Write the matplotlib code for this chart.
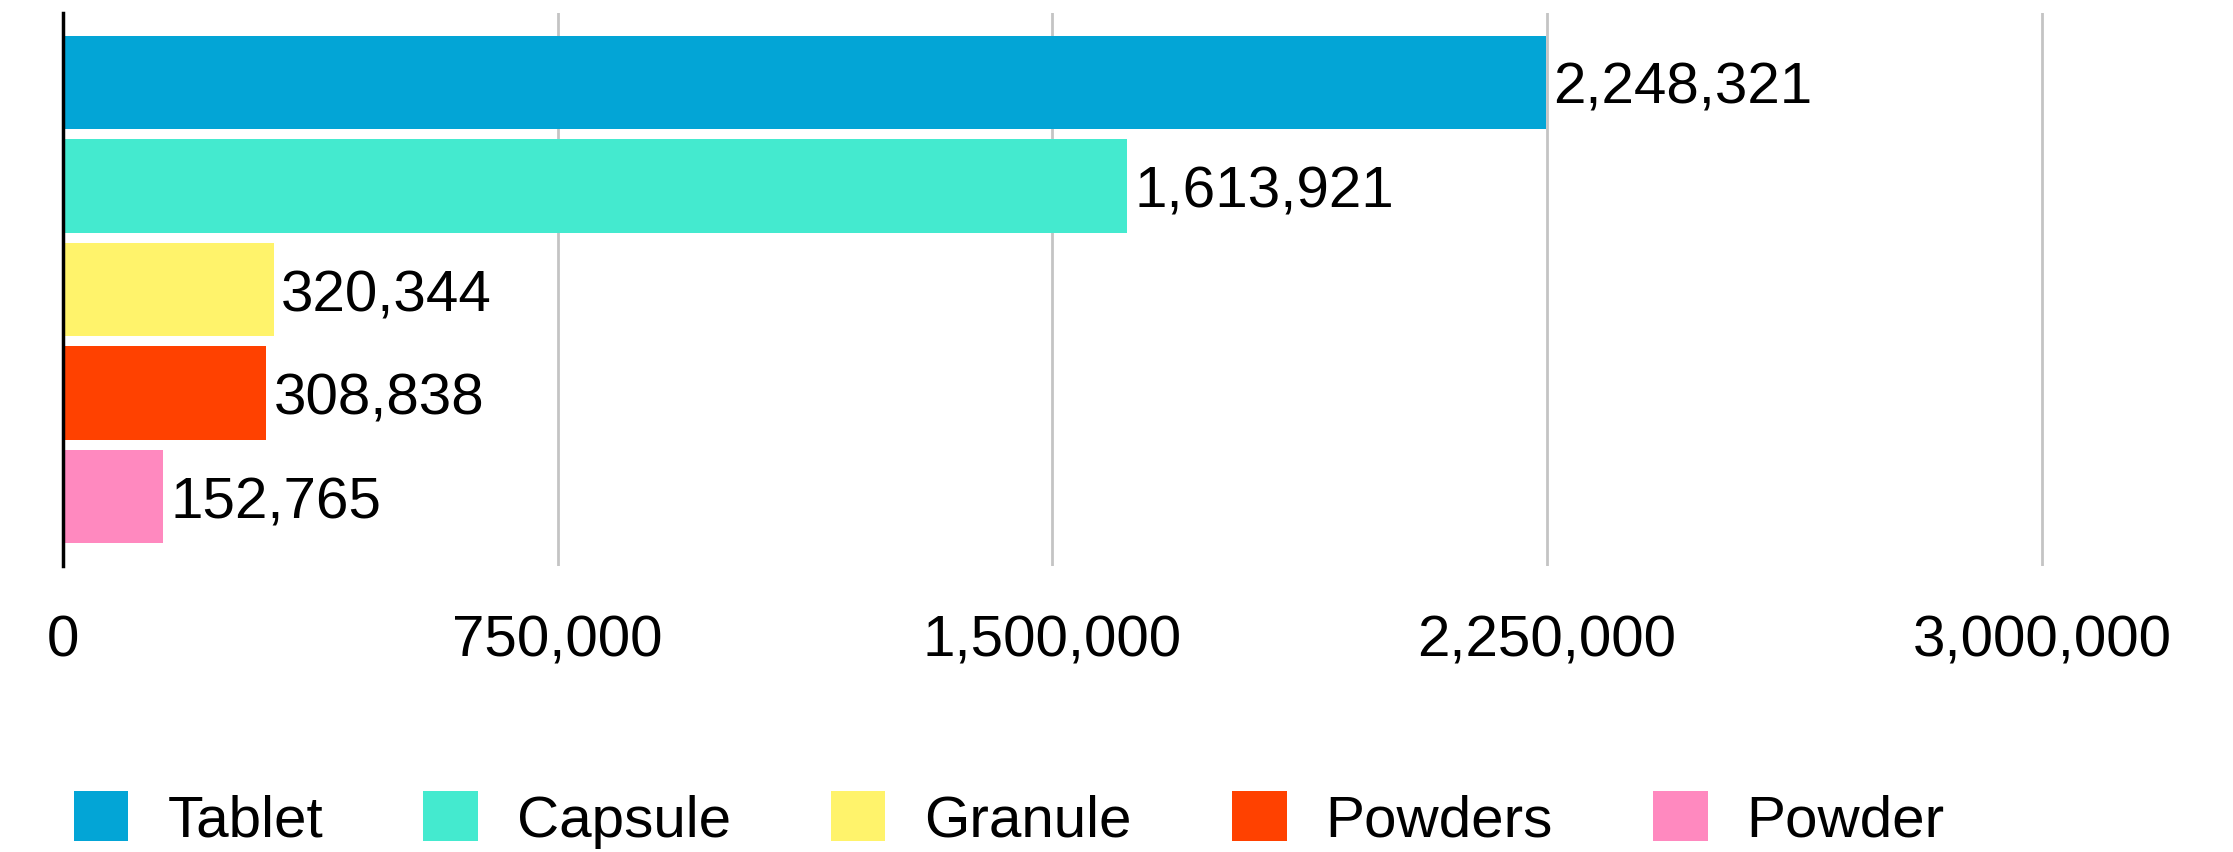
import matplotlib
matplotlib.use('Agg')
import matplotlib.pyplot as plt
from matplotlib.patches import Patch

categories = ['Tablet', 'Capsule', 'Granule', 'Powders', 'Powder']
values = [2248321, 1613921, 320344, 308838, 152765]
colors = ['#03A5D6', '#44EACF', '#FFF36B', '#FF4100', '#FF89BF']
ticks = [0, 750000, 1500000, 2250000, 3000000]

plt.rcParams['font.family'] = ['Liberation Sans', 'DejaVu Sans']

W, H = 2233, 853
fig = plt.figure(figsize=(W / 100, H / 100), dpi=100)

# axes placed in pixels: x=0 at 62.7px, 750k per 494.8px
left = 62.7
px_per_unit = 494.8 / 750000
xmax = 3.2e6
ax = fig.add_axes([left / W, 1 - 567 / H, xmax * px_per_unit / W, (567 - 14) / H])

y = list(range(len(categories)))
ax.barh(y, values, height=0.9, color=colors, zorder=2)
ax.set_ylim(len(categories) - 1 + 0.67, -0.67)
ax.set_xlim(0, xmax)

for yi, v in zip(y, values):
    ax.annotate(f'{v:,}', (v, yi), xytext=(5, -4), textcoords='offset points',
                va='center', ha='left', fontsize=42, zorder=3)

ax.set_xticks(ticks)
ax.set_xticklabels([f'{t:,}' for t in ticks], fontsize=42)
ax.set_yticks([])
ax.tick_params(axis='x', length=0, pad=34)
ax.grid(axis='x', color='#c4c4c4', linewidth=2, zorder=0)

for s in ['top', 'right', 'bottom']:
    ax.spines[s].set_visible(False)
ax.spines['left'].set_color('black')
ax.spines['left'].set_linewidth(2.5)
ax.spines['left'].set_zorder(4)

handles = [Patch(facecolor=c, label=l) for c, l in zip(colors, categories)]
fig.legend(handles=handles, ncol=5, loc='lower left',
           bbox_to_anchor=(74 / W, 0.005), frameon=False, fontsize=42,
           handlelength=0.93, handleheight=0.95, handletextpad=0.67,
           columnspacing=1.72, borderpad=0, borderaxespad=0)

fig.savefig('out.png', dpi=100, facecolor='white')
